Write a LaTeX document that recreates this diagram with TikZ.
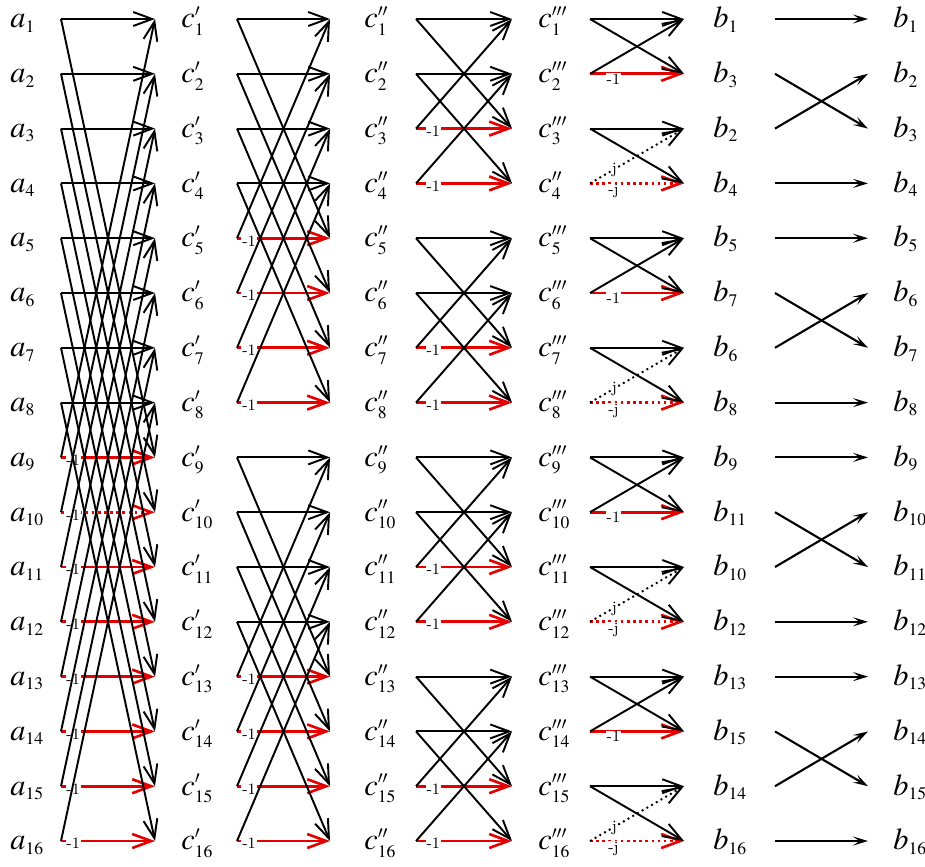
\documentclass[tikz,border=0pt]{standalone}
\usepackage{mathptmx}
\usetikzlibrary{arrows.meta}
\DeclareMathSizes{17.28}{17.28}{10}{7}

\tikzset{
  sig/.style={line width=1.1pt, -{Straight Barb[length=3.8mm,width=2.8mm]}},
  negsig/.style={sig, red!90!black, line width=1.5pt},
  swapsig/.style={line width=1.2pt, -{Stealth[length=3mm,width=1.8mm,inset=1.3mm]}},
  lab/.style={font=\LARGE, inner sep=0pt, anchor=mid west},
  coef/.style={font=\small\itshape, fill=white, inner sep=0.5pt, text=black, yshift=-1.5pt},
}

\begin{document}
\begin{tikzpicture}[x=0.02cm, y=-0.02cm]
\useasboundingbox (0,0) rectangle (925,866);

% points of every stage
\foreach \s/\xa/\xb in {1/61/155, 2/237/330, 3/416/512, 4/590/684, 5/775/868} {
  \foreach \k in {1,...,16} {
    \coordinate (i\s-\k) at (\xa, {19+54.8*(\k-1)});
    \coordinate (o\s-\k) at (\xb, {19+54.8*(\k-1)});
  }
}

% column labels
\foreach \k in {1,...,16} {
  \node[lab] (a\k) at (10, {24+54.8*(\k-1)}) {$a_{\k}$};
  \node[lab] (cp\k) at (181, {24+54.8*(\k-1)}) {$c'_{\k}$};
  \node[lab] (cpp\k) at (364, {24+54.8*(\k-1)}) {$c''_{\k}$};
  \node[lab] (bout\k) at (893, {24+54.8*(\k-1)}) {$b_{\k}$};
}
\foreach \k in {1,2,3,5,6,...,16}
  \node[lab] (cppp\k) at (538, {24+54.8*(\k-1)}) {$c'''_{\k}$};
\node[lab] (cppp4) at (538, {24+54.8*3}) {$c''_{4}$};
\foreach \k/\m in {1/1,2/3,3/2,4/4,5/5,6/7,7/6,8/8,9/9,10/11,11/10,12/12,13/13,14/15,15/14,16/16}
  \node[lab] (bmid\k) at (713, {24+54.8*(\k-1)}) {$b_{\m}$};

% stage 1
\foreach \k in {9,11,12,...,16}
  \draw[negsig] (i1-\k) -- node[coef, pos=0.13] {-1} (o1-\k);
\draw[negsig, dotted] (i1-10) -- node[coef, pos=0.13] {-1} (o1-10);
\foreach \k in {1,...,8} {
  \pgfmathtruncatemacro\m{\k+8}
  \draw[sig] (i1-\k) -- (o1-\k);
  \draw[sig] (i1-\k) -- (o1-\m);
  \draw[sig] (i1-\m) -- (o1-\k);
}

% stage 2
\foreach \g in {0,8} {
  \foreach \k in {1,...,4} {
    \pgfmathtruncatemacro\p{\g+\k}
    \pgfmathtruncatemacro\q{\g+\k+4}
    \draw[negsig] (i2-\q) -- node[coef, pos=0.13] {-1} (o2-\q);
    \draw[sig] (i2-\p) -- (o2-\p);
    \draw[sig] (i2-\p) -- (o2-\q);
    \draw[sig] (i2-\q) -- (o2-\p);
  }
}

% stage 3
\foreach \g in {0,4,8,12} {
  \foreach \k in {1,2} {
    \pgfmathtruncatemacro\p{\g+\k}
    \pgfmathtruncatemacro\q{\g+\k+2}
    \draw[negsig] (i3-\q) -- node[coef, pos=0.18] {-1} (o3-\q);
    \draw[sig] (i3-\p) -- (o3-\p);
    \draw[sig] (i3-\p) -- (o3-\q);
    \draw[sig] (i3-\q) -- (o3-\p);
  }
}

% stage 4, twiddles j and -j
\foreach \g in {0,4,8,12} {
  \pgfmathtruncatemacro\p{\g+1}
  \pgfmathtruncatemacro\q{\g+2}
  \pgfmathtruncatemacro\r{\g+3}
  \pgfmathtruncatemacro\t{\g+4}
  \draw[negsig] (i4-\q) -- node[coef, pos=0.25, yshift=-1.5pt] {-1} (o4-\q);
  \draw[sig] (i4-\p) -- (o4-\p);
  \draw[sig] (i4-\p) -- (o4-\q);
  \draw[sig] (i4-\q) -- (o4-\p);
  \draw[negsig, dotted] (i4-\t) -- node[coef, pos=0.25, yshift=-3pt] {-j} (o4-\t);
  \draw[sig] (i4-\r) -- (o4-\r);
  \draw[sig] (i4-\r) -- (o4-\t);
  \draw[sig, dotted] (i4-\t) -- node[coef, pos=0.26, yshift=1pt] {j} (o4-\r);
}

% bit reversal swaps
\foreach \g in {0,4,8,12} {
  \pgfmathtruncatemacro\p{\g+1}
  \pgfmathtruncatemacro\q{\g+2}
  \pgfmathtruncatemacro\r{\g+3}
  \pgfmathtruncatemacro\t{\g+4}
  \draw[swapsig] (i5-\p) -- (o5-\p);
  \draw[swapsig] (i5-\q) -- (o5-\r);
  \draw[swapsig] (i5-\r) -- (o5-\q);
  \draw[swapsig] (i5-\t) -- (o5-\t);
}
\end{tikzpicture}
\end{document}
